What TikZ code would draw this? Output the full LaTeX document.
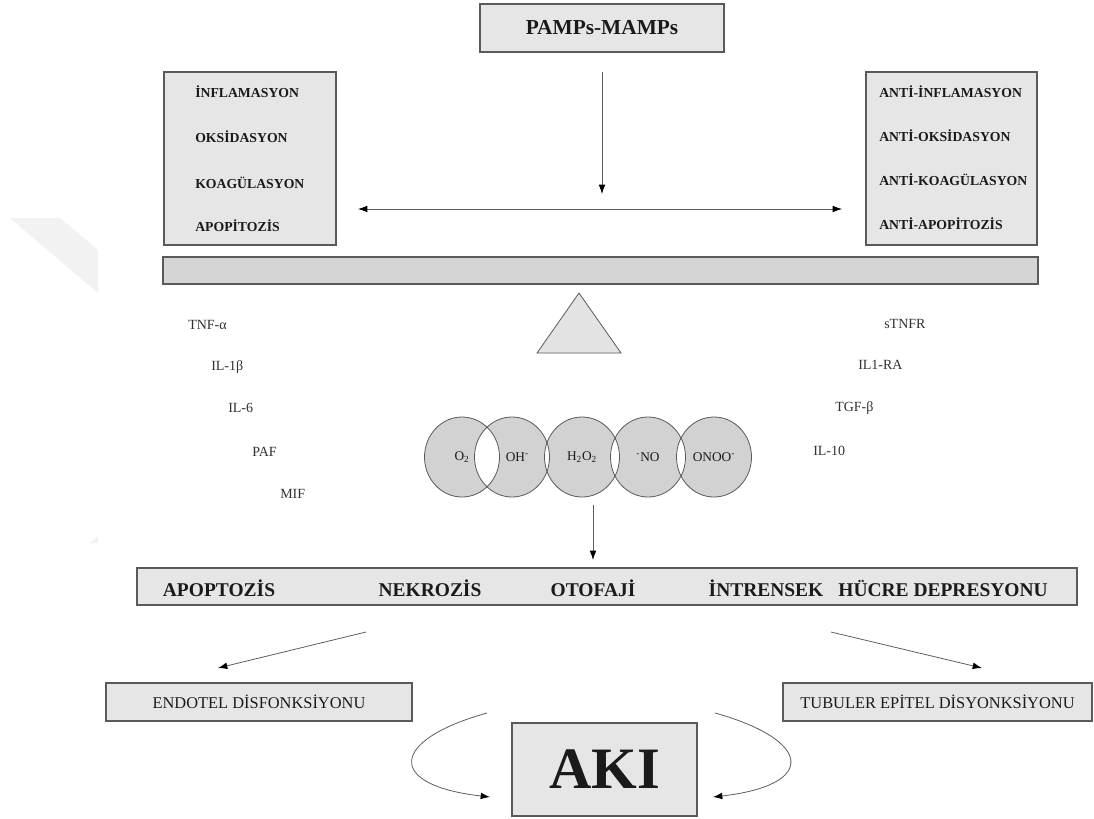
\documentclass[tikz,border=0pt]{standalone}
\usepackage{fontspec}
\setmainfont{Liberation Serif}
\usetikzlibrary{arrows.meta,shapes.geometric}
\definecolor{boxfill}{HTML}{E6E6E7}
\definecolor{barfill}{HTML}{D5D5D5}
\definecolor{circfill}{HTML}{D2D2D2}
\definecolor{trifill}{HTML}{E3E3E3}
\definecolor{bordergray}{HTML}{5A5A5A}
\definecolor{linegray}{HTML}{5E5E5E}
\definecolor{wmgray}{HTML}{F2F2F2}
\definecolor{txt}{HTML}{1A1A1A}
\begin{document}
\begin{tikzpicture}[x=0.75pt,y=-0.75pt,
  box/.style={draw=bordergray, fill=boxfill, line width=0.8pt, inner sep=0pt, text=txt},
  barbox/.style={draw=bordergray, fill=barfill, line width=0.8pt, inner sep=0pt},
  lbl/.style={anchor=west, inner sep=0pt, text=txt, font=\fontsize{10.3}{12}\selectfont\bfseries},
  cyt/.style={anchor=west, inner sep=0pt, text=txt!90, font=\fontsize{10.5}{12}\selectfont},
  bw/.style={inner sep=0pt, text=txt, font=\fontsize{14.6}{16}\selectfont\bfseries},
  cnode/.style={ellipse, draw=bordergray, line width=0.6pt, minimum width=56.25pt, minimum height=60pt, inner sep=0pt, text=txt, font=\fontsize{10}{12}\selectfont},
  arr/.style={draw=linegray, line width=0.6pt, -{Latex[length=7pt,width=5pt,color=black]}},
  darr/.style={draw=linegray, line width=0.6pt, {Latex[length=7pt,width=5pt,color=black]}-{Latex[length=7pt,width=5pt,color=black]}}
]
\useasboundingbox (0,0) rectangle (1094,818);
\fill[white] (0,0) rectangle (1094,818);
% faint watermark remnants
\fill[wmgray] (10,218) -- (60,218) -- (98,250) -- (98,293) -- cycle;
\fill[wmgray] (90,543) -- (98,536) -- (98,543) -- cycle;

% top
\node[box, minimum width=183pt, minimum height=36pt, font=\fontsize{16}{18}\selectfont\bfseries] (pamps) at (602,28) {PAMPs-MAMPs};

% left box
\node[box, minimum width=129pt, minimum height=129.75pt] (lbox) at (250,158.5) {};
\node[lbl] (l1) at (195,92) {İNFLAMASYON};
\node[lbl] (l2) at (195,137) {OKSİDASYON};
\node[lbl] (l3) at (195,183) {KOAGÜLASYON};
\node[lbl] (l4) at (195,226) {APOPİTOZİS};

% right box
\node[box, minimum width=128.25pt, minimum height=129.75pt] (rbox) at (951.5,158.5) {};
\node[lbl] (r1) at (879,92) {ANTİ-İNFLAMASYON};
\node[lbl] (r2) at (879,136) {ANTİ-OKSİDASYON};
\node[lbl] (r3) at (879,180) {ANTİ-KOAGÜLASYON};
\node[lbl] (r4) at (879,224) {ANTİ-APOPİTOZİS};

% arrows at top
\coordinate (vtop) at (602,72);
\coordinate (vbot) at (602,194);
\draw[arr] (vtop) -- (vbot);
\coordinate (hl) at (358,209);
\coordinate (hr) at (842,209);
\draw[darr] (hl) -- (hr);

% beam and fulcrum
\node[barbox, minimum width=656.25pt, minimum height=20.25pt] (beam) at (600.5,270.5) {};
\filldraw[draw=bordergray, fill=trifill, line width=0.6pt] (579,293) -- (621,353) -- (537,353) -- cycle;

% cytokines
\node[cyt] (tnf) at (188,325) {TNF-α};
\node[cyt] (il1b) at (211,367) {IL-1β};
\node[cyt] (il6) at (228,408) {IL-6};
\node[cyt] (paf) at (252,452) {PAF};
\node[cyt] (mif) at (280,494) {MIF};
\node[cyt] (stnfr) at (884,324) {sTNFR};
\node[cyt] (il1ra) at (858,365) {IL1-RA};
\node[cyt] (tgfb) at (835,408) {TGF-β};
\node[cyt] (il10) at (813,451) {IL-10};

% radicals
\fill[circfill, even odd rule]
  (462,457) ellipse [x radius=28.125pt, y radius=30pt]
  (512,457) ellipse [x radius=28.125pt, y radius=30pt]
  (582,457) ellipse [x radius=28.125pt, y radius=30pt]
  (648,457) ellipse [x radius=28.125pt, y radius=30pt]
  (714,457) ellipse [x radius=28.125pt, y radius=30pt];
\node[cnode] (c1) at (462,457) {O\textsubscript{2}};
\node[cnode] (c2) at (512,457) {\hspace{8pt}OH\textsuperscript{-}};
\node[cnode] (c3) at (582,457) {H\textsubscript{2}O\textsubscript{2}};
\node[cnode] (c4) at (648,457) {\textsuperscript{-}NO};
\node[cnode] (c5) at (714,457) {ONOO\textsuperscript{-}};

\coordinate (dtop) at (593,505);
\coordinate (dbot) at (593,560);
\draw[arr] (dtop) -- (dbot);

% processes bar
\node[box, minimum width=705pt, minimum height=27.75pt] (proc) at (607,586.5) {};
\node[bw] (apo) at (219,588) {APOPTOZİS};
\node[bw] (nek) at (430,588) {NEKROZİS};
\node[bw] (oto) at (593,588) {OTOFAJİ};
\node[bw] (int) at (766,588) {İNTRENSEK};
\node[bw] (huc) at (943,588) {HÜCRE DEPRESYONU};

% diagonal arrows
\coordinate (dl1) at (366,632);
\coordinate (dl2) at (218,668);
\coordinate (dr1) at (831,632);
\coordinate (dr2) at (982,668);
\draw[arr] (dl1) -- (dl2);
\draw[arr] (dr1) -- (dr2);

% dysfunction boxes
\node[box, minimum width=229.5pt, minimum height=28.5pt, font=\fontsize{12.3}{14}\selectfont] (endo) at (259,702) {ENDOTEL DİSFONKSİYONU};
\node[box, minimum width=231.75pt, minimum height=28.5pt, font=\fontsize{12.3}{14}\selectfont] (tub) at (937.5,702) {TUBULER EPİTEL DİSYONKSİYONU};

% AKI
\node[box, minimum width=138.75pt, minimum height=69.75pt, font=\fontsize{44}{48}\selectfont\bfseries] (aki) at (604.5,769.5) {AKI};

\coordinate (cl0) at (487,713);
\coordinate (cl1) at (490,797);
\coordinate (cr0) at (715,713);
\coordinate (cr1) at (713,797);
\draw[arr] (cl0) .. controls (390,740) and (385,785) .. (cl1);
\draw[arr] (cr0) .. controls (812,740) and (818,785) .. (cr1);
\end{tikzpicture}
\end{document}
